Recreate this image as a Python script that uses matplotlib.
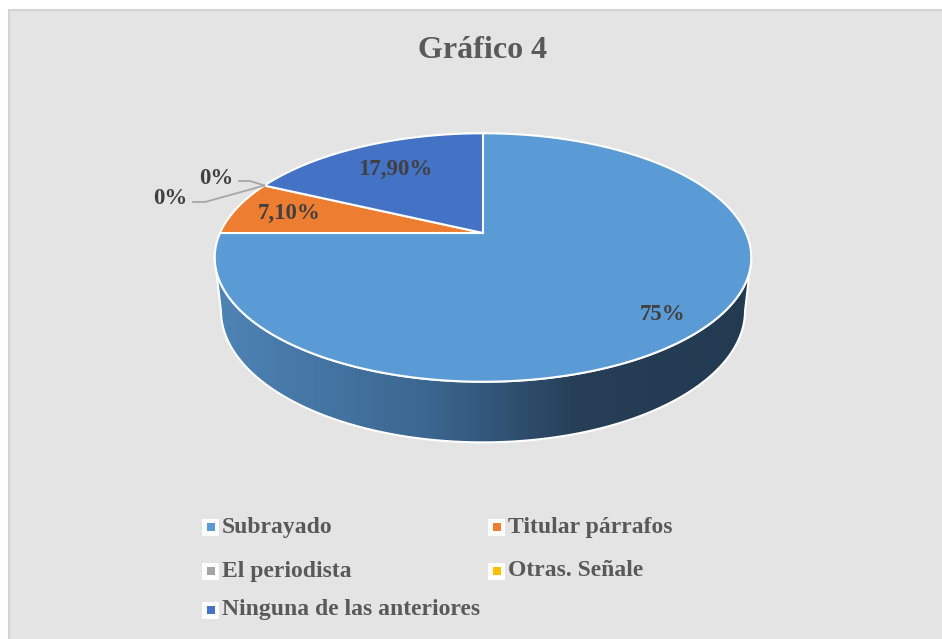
import numpy as np
import matplotlib.pyplot as plt
from matplotlib.patches import Polygon, Rectangle
from matplotlib.colors import LinearSegmentedColormap

# datos del gráfico
categorias = ['Subrayado', 'Titular párrafos', 'El periodista', 'Otras. Señale',
              'Ninguna de las anteriores']
valores = [75, 7.1, 0, 0, 17.9]
etiquetas = ['75%', '7,10%', '0%', '0%', '17,90%']
colores = ['#5B9BD5', '#ED7D31', '#A5A5A5', '#FFC000', '#4472C4']

# geometria del pastel 3D (pixeles)
cx, cy = 483, 233
R = 263
elev = np.radians(27)
D = 1188
h = 60


def proj(theta, r=1.0, z=0.0):
    t = np.radians(theta)
    xw = r * R * np.cos(t)
    yw = r * R * np.sin(t)
    Y = yw * np.sin(elev) + z * np.cos(elev)
    s = D / (D + yw * np.cos(elev) - z * np.sin(elev))
    return cx + xw * s, cy - Y * s


plt.rcParams['font.family'] = ['Liberation Serif', 'DejaVu Serif']
fig = plt.figure(figsize=(9.42, 6.39), dpi=100, facecolor='white')
ax = fig.add_axes([0, 0, 1, 1])
ax.set_xlim(0, 942)
ax.set_ylim(639, 0)
ax.axis('off')

# fondo del area del grafico
ax.add_patch(Rectangle((9, 10), 940, 640, facecolor='#E4E4E4', edgecolor='#D4D4D4', lw=1.5, zorder=0))

ax.text(483, 51, 'Gráfico 4', ha='center', va='center', fontsize=23, fontweight='bold', color='#595959')

# pared lateral visible
phi = np.degrees(np.arcsin(R * np.cos(elev) / D))
th = np.linspace(180 + phi, 360 - phi, 200)
xt, yt = proj(th)
xb, yb = proj(th[::-1], z=-h)
lado = np.column_stack([np.concatenate([xt, xb]), np.concatenate([yt, yb])])
poly = Polygon(lado, closed=True, facecolor='none', edgecolor='white', lw=1.5, zorder=3)
ax.add_patch(poly)
cmap = LinearSegmentedColormap.from_list('lado', [(0, '#4E84B5'), (0.4, '#3B6690'),
                                                 (0.68, '#263E56'), (1, '#233B51')])
grad = np.linspace(0, 1, 256).reshape(1, -1)
im = ax.imshow(grad, cmap=cmap, aspect='auto', extent=[lado[:, 0].min(), lado[:, 0].max(),
                                                       lado[:, 1].max(), lado[:, 1].min()], zorder=2)
im.set_clip_path(poly)
ax.set_xlim(0, 942)
ax.set_ylim(639, 0)

# cara superior
ang = 90.0
bordes = []
for v, col in zip(valores, colores):
    a1 = ang - v * 3.6
    if v > 0:
        arc = np.linspace(ang, a1, 200)
        px, py = proj(arc)
        pts = np.column_stack([np.concatenate([[cx], px]), np.concatenate([[cy], py])])
        ax.add_patch(Polygon(pts, closed=True, facecolor=col, edgecolor='white', lw=1.5, zorder=4))
    bordes.append((ang, a1))
    ang = a1

# etiquetas de datos
radios = [0.85, 0.78, None, None, 0.7]
for (a0, a1), lab, r in zip(bordes, etiquetas, radios):
    if r is None:
        continue
    x, y = proj((a0 + a1) / 2, r)
    ax.text(x, y, lab, ha='center', va='center', fontsize=16.5, fontweight='bold',
            color='#404040', zorder=6)

# etiquetas 0% con lineas guia
px0, py0 = proj(bordes[2][0])
guias = [((250, 181), (239, 181), (216, 178)), ((205, 202), (193, 202), (170, 199))]
for k, (p1, p2, pt) in enumerate(guias):
    ax.plot([px0, p1[0], p2[0]], [py0, p1[1], p2[1]], color='#A6A6A6', lw=1.3, zorder=5)
    ax.text(pt[0], pt[1], etiquetas[2 + k], ha='center', va='center', fontsize=16.5,
            fontweight='bold', color='#404040', zorder=6)

# leyenda
cols_x = [202, 488]
filas_y = [527, 571, 610]
for i, (cat, col) in enumerate(zip(categorias, colores)):
    x = cols_x[i % 2]
    y = filas_y[i // 2]
    ax.add_patch(Rectangle((x, y - 8.5), 17, 17, facecolor='white', edgecolor='none', zorder=5))
    ax.add_patch(Rectangle((x + 4.5, y - 4), 8, 8, facecolor=col, edgecolor='none', zorder=6))
    ax.text(x + 20, y, cat, ha='left', va='center', fontsize=17, fontweight='bold', color='#595959')

fig.savefig('out.png', dpi=100, facecolor=fig.get_facecolor())
